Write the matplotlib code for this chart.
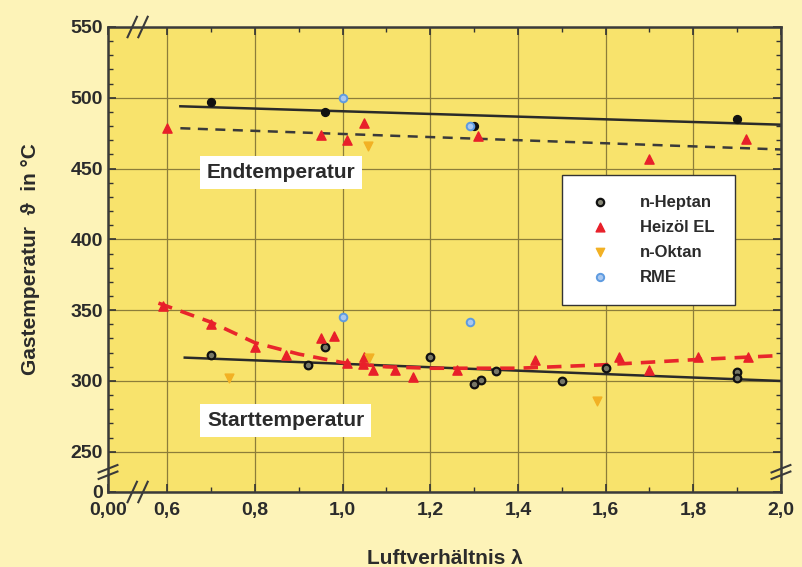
import matplotlib
matplotlib.use("Agg")
import matplotlib.pyplot as plt
from matplotlib.ticker import FixedLocator

plt.rcParams["font.family"] = ["Liberation Sans Narrow", "Liberation Sans", "DejaVu Sans"]
plt.rcParams["font.weight"] = "bold"

# ---- data ----
# n-Heptan
hep_end_x = [0.70, 0.96, 1.30, 1.90]
hep_end_y = [497, 490, 480, 485]
hep_start_x = [0.70, 0.92, 0.96, 1.20, 1.30, 1.315, 1.35, 1.50, 1.60, 1.90, 1.90]
hep_start_y = [318, 311, 324, 317, 298, 301, 307, 300, 309, 306, 302]
# Heizoel EL
hz_end_x = [0.60, 0.95, 1.01, 1.05, 1.31, 1.70, 1.92]
hz_end_y = [479, 474, 470, 482, 473, 457, 471]
hz_start_x = [0.59, 0.70, 0.80, 0.87, 0.95, 0.98, 1.01, 1.046, 1.05, 1.07, 1.12,
              1.16, 1.26, 1.44, 1.63, 1.70, 1.81, 1.925]
hz_start_y = [353, 340, 324, 318, 330, 332, 313, 312, 317, 308, 308,
              303, 308, 315, 317, 308, 317, 317]
# n-Oktan
ok_x = [1.057, 0.74, 1.06, 1.58]
ok_y = [466, 302, 316, 286]
# RME
rme_x = [1.00, 1.29, 1.00, 1.29]
rme_y = [500, 480, 345, 342]

# fit lines (read as drawn)
fit_hep_end_x = [0.63, 2.0]
fit_hep_end_y = [494, 481]
fit_hz_end_x = [0.63, 2.0]
fit_hz_end_y = [478.5, 463.5]
fit_hep_start_x = [0.64, 2.0]
fit_hep_start_y = [316.5, 300]
fit_hz_start_x = [0.58, 0.7, 0.8, 0.9, 1.0, 1.1, 1.2, 1.4, 1.6, 1.8, 2.0]
fit_hz_start_y = [355, 341.5, 327, 319, 313, 310, 309, 309, 311.5, 315, 318]

x_major = [0.6, 0.8, 1.0, 1.2, 1.4, 1.6, 1.8, 2.0]
x_labels = ["0,6", "0,8", "1,0", "1,2", "1,4", "1,6", "1,8", "2,0"]
y_major = [250, 300, 350, 400, 450, 500, 550]

X0, X1 = 0.465, 2.0
Y0, Y1 = 221.6, 550

txt = "#2b2b2b"
fig = plt.figure(figsize=(8.02, 5.67), dpi=100, facecolor="#fdf3b8")
ax = fig.add_axes([0.1347, 0.1323, 0.8391, 0.8201], facecolor="#f8e36c")
ax.set_xlim(X0, X1)
ax.set_ylim(Y0, Y1)

ax.grid(True, color="#8c7d3a", lw=0.9)
ax.set_axisbelow(True)

ax.set_xticks([X0] + x_major)
ax.set_xticklabels(["0,00"] + x_labels)
ax.set_yticks([Y0] + y_major)
ax.set_yticklabels(["0"] + [str(v) for v in y_major])
ax.xaxis.set_minor_locator(FixedLocator([0.7, 0.9, 1.1, 1.3, 1.5, 1.7, 1.9]))
ax.yaxis.set_minor_locator(FixedLocator([v for v in range(260, 550, 10) if v % 50]))
ax.tick_params(which="both", direction="in", top=True, right=True,
               color="#333333", labelcolor=txt, labelsize=14)
ax.tick_params(which="major", length=6, width=1.2)
ax.tick_params(which="minor", length=3.5, width=1.0)
ax.tick_params(axis="x", pad=7)
for s in ax.spines.values():
    s.set_color("#3a3a3a")
    s.set_linewidth(1.8)

# fit lines
ax.plot(fit_hep_end_x, fit_hep_end_y, color="#2a2a2a", lw=1.8)
ax.plot(fit_hz_end_x, fit_hz_end_y, color="#3a3a3a", lw=1.8, ls=(0, (4, 3)))
ax.plot(fit_hep_start_x, fit_hep_start_y, color="#2a2a2a", lw=1.8)
ax.plot(fit_hz_start_x, fit_hz_start_y, color="#e8262b", lw=2.6, ls=(0, (4, 2.5)))

# markers
ax.scatter(hep_end_x, hep_end_y, s=32, marker="o", facecolor="#111111",
           edgecolor="#111111", zorder=4)
ax.scatter(hep_start_x, hep_start_y, s=30, marker="o", facecolor="#777766",
           edgecolor="#111111", lw=1.6, zorder=4)
ax.scatter(hz_end_x + hz_start_x, hz_end_y + hz_start_y, s=44, marker="^",
           facecolor="#e8202a", edgecolor="#e8202a", zorder=4)
ax.scatter(ok_x, ok_y, s=40, marker="v", facecolor="#f2b124",
           edgecolor="#f2b124", zorder=4)
ax.scatter(rme_x, rme_y, s=30, marker="o", facecolor="#a9c8f0",
           edgecolor="#5e9be0", lw=1.4, zorder=4)

# legend proxies
h1 = ax.scatter([], [], s=28, marker="o", facecolor="#888877", edgecolor="#111111", lw=1.6)
h2 = ax.scatter([], [], s=40, marker="^", facecolor="#e8202a", edgecolor="#e8202a")
h3 = ax.scatter([], [], s=36, marker="v", facecolor="#f2b124", edgecolor="#f2b124")
h4 = ax.scatter([], [], s=28, marker="o", facecolor="#a9c8f0", edgecolor="#5e9be0", lw=1.4)
leg = ax.legend([h1, h2, h3, h4], ["n-Heptan", "Heizöl EL", "n-Oktan", "RME"],
                loc="upper left", bbox_to_anchor=(0.674, 0.682), fancybox=False,
                framealpha=1, edgecolor="#333333", fontsize=12, labelspacing=0.6,
                handletextpad=1.3, borderpad=1.2, borderaxespad=0, handlelength=2.2)
leg.get_frame().set_linewidth(1.0)
for t in leg.get_texts():
    t.set_color(txt)

box = dict(facecolor="white", edgecolor="none", pad=5)
ax.text(0.86, 447, "Endtemperatur", fontsize=15, color=txt, ha="center", va="center",
        bbox=box)
ax.text(0.87, 272, "Starttemperatur", fontsize=15, color=txt, ha="center", va="center",
        bbox=box)

ax.set_ylabel("Gastemperatur  ϑ  in °C", fontsize=15, color=txt, labelpad=22,
              fontweight="bold")
ax.set_xlabel("Luftverhältnis λ", fontsize=15, color=txt, labelpad=22,
              fontweight="bold")

# axis-break marks
bk = dict(transform=ax.transAxes, color="#3a3a3a", lw=1.5, clip_on=False, zorder=6)
for xb in (0.036, 0.052):
    for yb in (0.0, 1.0):
        ax.plot([xb - 0.007, xb + 0.007], [yb - 0.022, yb + 0.022], **bk)
for xb in (0.0, 1.0):
    for yb in (0.036, 0.05):
        ax.plot([xb - 0.014, xb + 0.014], [yb - 0.008, yb + 0.008], **bk)

fig.savefig("out.png", dpi=100, facecolor=fig.get_facecolor())
